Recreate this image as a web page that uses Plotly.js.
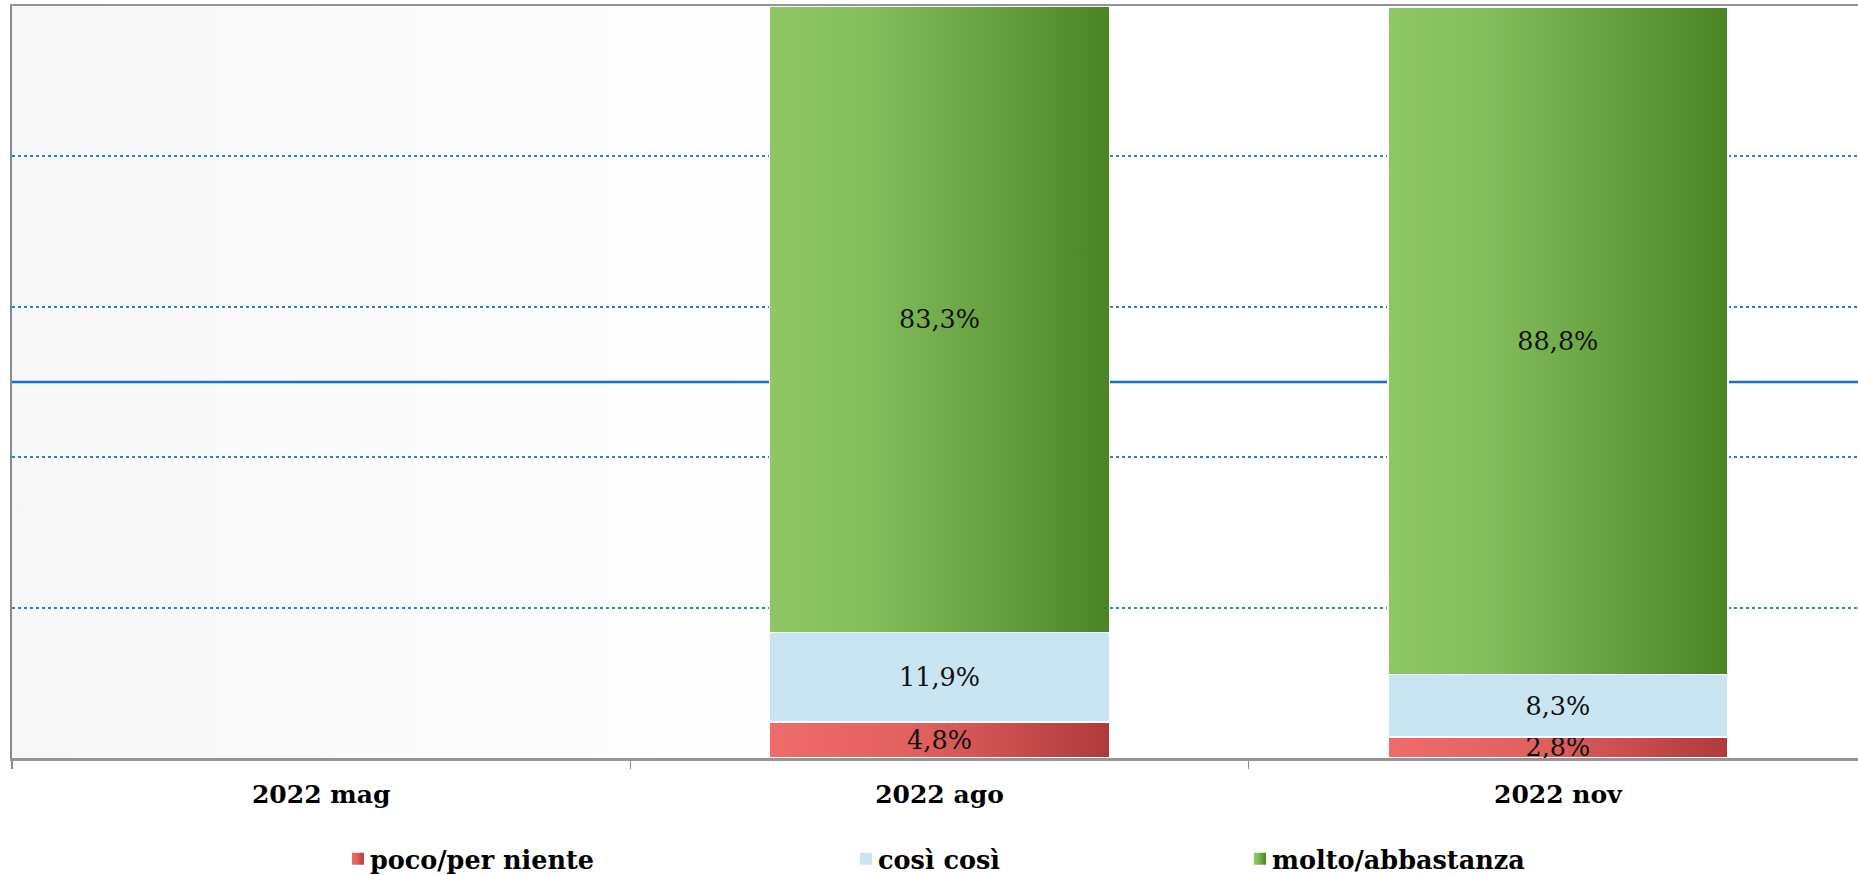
<!DOCTYPE html>
<html>
<head>
<meta charset="utf-8">
<script src="https://cdn.plot.ly/plotly-3.0.1.min.js"></script>
<style>
  html, body { margin: 0; padding: 0; overflow: hidden; background: #ffffff; }
  #chart { width: 1870px; height: 875px; }
</style>
</head>
<body>
<div id="chart"></div>
<script>
// ---- data ----
const categories = ['2022 mag', '2022 ago', '2022 nov'];
const seriesNames = ['poco/per niente', 'così così', 'molto/abbastanza'];
const pocoPerNiente = [null, 4.8, 2.8];
const cosiCosi = [null, 11.9, 8.3];
const moltoAbbastanza = [null, 83.3, 88.8];
const referenceLine = 50;

const serif = 'DejaVu Serif, Liberation Serif, serif';
const labelFont = { family: serif, size: 25.5, color: '#111111' };
const legendFont = { family: serif, size: 25.5, color: '#000000', weight: 'bold' };

function barTrace(name, values, color, legendId) {
  return {
    type: 'bar',
    name: name,
    x: categories,
    y: values,
    marker: { color: color, line: { color: '#ffffff', width: 1.5 } },
    texttemplate: '%{y:.1f}%',
    textposition: 'inside',
    insidetextanchor: 'middle',
    textangle: 0,
    constraintext: 'none',
    textfont: labelFont,
    insidetextfont: labelFont,
    cliponaxis: false,
    hoverinfo: 'x+y+name',
    legend: legendId
  };
}

const traces = [
  barTrace(seriesNames[0], pocoPerNiente, '#d25454', 'legend'),
  barTrace(seriesNames[1], cosiCosi, '#c9e5f2', 'legend2'),
  barTrace(seriesNames[2], moltoAbbastanza, '#6da746', 'legend3')
];

const legendBase = {
  orientation: 'h',
  yref: 'container',
  yanchor: 'middle',
  xanchor: 'left',
  y: 0.018,
  font: legendFont,
  bgcolor: 'rgba(0,0,0,0)',
  borderwidth: 0
};

const layout = {
  width: 1870,
  height: 875,
  margin: { l: 12, r: 3, t: 6, b: 117 },
  paper_bgcolor: '#ffffff',
  plot_bgcolor: '#fcfcfc',
  barmode: 'stack',
  bargap: 0.45,
  separators: ',.',
  showlegend: true,
  legend: Object.assign({}, legendBase, { x: 0.1757 }),
  legend2: Object.assign({}, legendBase, { x: 0.4496 }),
  legend3: Object.assign({}, legendBase, { x: 0.662 }),
  xaxis: {
    type: 'category',
    tickson: 'boundaries',
    ticks: 'outside',
    ticklen: 8,
    tickwidth: 1.5,
    tickcolor: '#8c8c8c',
    showline: true,
    linecolor: '#949494',
    linewidth: 2.5,
    mirror: true,
    showgrid: false,
    tickfont: { family: serif, size: 25, color: '#000000', weight: 'bold' },
    ticklabelstandoff: 12,
    fixedrange: true
  },
  yaxis: {
    range: [0, 100],
    dtick: 20,
    showticklabels: false,
    ticks: '',
    showgrid: true,
    gridcolor: '#2a80d2',
    gridwidth: 2,
    griddash: 'dot',
    zeroline: false,
    showline: true,
    linecolor: '#8a8a8a',
    linewidth: 2.5,
    fixedrange: true
  },
  shapes: [{
    type: 'line',
    xref: 'paper', x0: 0, x1: 1,
    yref: 'y', y0: referenceLine, y1: referenceLine,
    line: { color: '#1a6ec6', width: 2.5 },
    layer: 'below'
  }]
};

function addGradient(defs, id, stops) {
  if (defs.querySelector('#' + id)) return;
  const ns = 'http://www.w3.org/2000/svg';
  const g = document.createElementNS(ns, 'linearGradient');
  g.setAttribute('id', id);
  g.setAttribute('x1', '0'); g.setAttribute('y1', '0');
  g.setAttribute('x2', '1'); g.setAttribute('y2', '0');
  stops.forEach(function (s) {
    const st = document.createElementNS(ns, 'stop');
    st.setAttribute('offset', s[0]);
    st.setAttribute('stop-color', s[1]);
    g.appendChild(st);
  });
  defs.appendChild(g);
}

function decorate(gd) {
  const svg = gd.querySelector('svg.main-svg');
  if (!svg) return;
  const defs = svg.querySelector('defs');
  addGradient(defs, 'gradRed', [['0', '#f06c6c'], ['0.45', '#e05f5f'], ['1', '#b03a3a']]);
  addGradient(defs, 'gradGreen', [['0', '#8ec864'], ['0.3', '#84bd5c'], ['1', '#4a8424']]);
  addGradient(defs, 'gradBg', [['0', '#f7f7f7'], ['0.45', '#ffffff'], ['1', '#ffffff']]);
  const fills = {};
  fills[seriesNames[0]] = 'url(#gradRed)';
  fills[seriesNames[2]] = 'url(#gradGreen)';
  gd.querySelectorAll('.barlayer .trace.bars').forEach(function (t, i) {
    const f = fills[seriesNames[i]];
    if (!f) return;
    t.querySelectorAll('.point path').forEach(function (p) { p.style.fill = f; });
  });
  // legend entries (legendtext, legend2text, legend3text)
  gd.querySelectorAll('text').forEach(function (txt) {
    const name = txt.textContent;
    const cls = txt.getAttribute('class') || '';
    if (seriesNames.indexOf(name) < 0 || !/legend\d*text/.test(cls)) return;
    const item = txt.parentNode;
    const f = fills[name];
    item.querySelectorAll('path').forEach(function (p) {
      if (f) p.style.fill = f;
      p.style.strokeWidth = '0px';
    });
    if (!txt.dataset.ox) txt.dataset.ox = txt.getAttribute('x') || '40';
    txt.setAttribute('x', parseFloat(txt.dataset.ox) - 8);
  });
  const bg = gd.querySelector('.cartesianlayer .bg, rect.bg');
  if (bg) bg.style.fill = 'url(#gradBg)';
}

Plotly.newPlot('chart', traces, layout, { displayModeBar: false, staticPlot: true }).then(function (gd) {
  decorate(gd);
  setTimeout(function () { decorate(gd); }, 0);
});
</script>
</body>
</html>
